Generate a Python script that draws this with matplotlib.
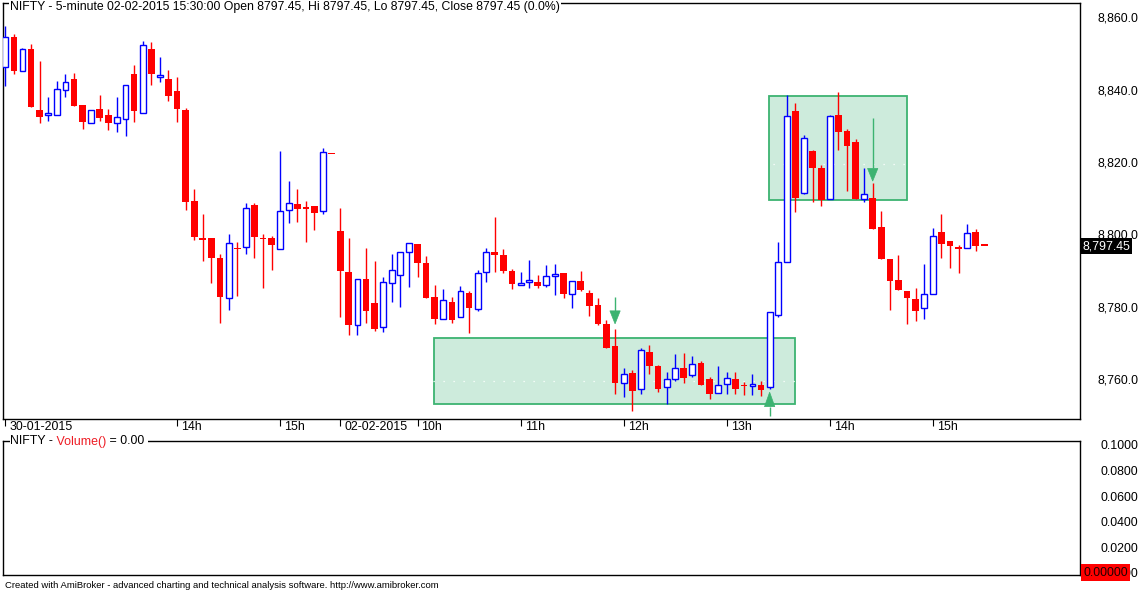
import matplotlib
matplotlib.use("Agg")
import matplotlib.pyplot as plt
from matplotlib import transforms
from matplotlib.patches import Rectangle, Polygon

plt.rcParams['font.family'] = ['Liberation Sans', 'DejaVu Sans']

# 5-minute bars, 30-01-2015 12:20 .. 02-02-2015 15:30
opens = [8846.9, 8855.1, 8845.8, 8851.8, 8835.0, 8833.5, 8833.5, 8840.4, 8843.5, 8836.3,
         8831.3, 8835.2, 8833.5, 8831.3, 8832.6, 8844.9, 8834.2, 8851.8, 8844.2, 8843.5,
         8840.2, 8834.9, 8809.8, 8799.6, 8799.6, 8794.0, 8782.9, 8796.8, 8797.0, 8808.7,
         8799.6, 8799.6, 8796.4, 8807.2, 8809.0, 8808.0, 8808.4, 8806.9, 8822.7, 8801.5,
         8790.2, 8775.4, 8788.1, 8781.5, 8774.9, 8787.0, 8789.2, 8795.6, 8797.9, 8792.6,
         8783.2, 8777.1, 8781.9, 8777.6, 8784.3, 8779.8, 8790.1, 8795.6, 8794.8, 8790.4,
         8786.5, 8787.5, 8787.3, 8786.5, 8789.0, 8789.9, 8784.0, 8787.7, 8784.3, 8780.9,
         8775.7, 8769.7, 8759.4, 8762.2, 8757.7, 8768.0, 8764.2, 8758.3, 8760.6, 8763.6,
         8761.7, 8765.0, 8760.6, 8756.6, 8759.1, 8760.6, 8758.8, 8758.5, 8758.9, 8758.3,
         8778.2, 8792.8, 8834.7, 8812.1, 8823.6, 8818.9, 8810.3, 8833.6, 8829.2, 8826.1,
         8810.3, 8810.6, 8802.6, 8793.7, 8787.9, 8784.9, 8782.7, 8780.1, 8784.0, 8801.1,
         8798.6, 8797.0, 8796.7, 8801.1, 8797.45]
highs = [8858.2, 8856.0, 8852.0, 8853.2, 8848.4, 8838.5, 8842.9, 8844.9, 8845.1, 8836.3,
         8834.9, 8839.0, 8835.2, 8838.5, 8841.8, 8847.3, 8854.1, 8853.8, 8849.7, 8846.0,
         8844.1, 8835.4, 8813.0, 8806.2, 8799.6, 8795.1, 8800.7, 8798.4, 8809.2, 8809.2,
         8800.7, 8800.1, 8823.6, 8815.3, 8813.1, 8809.8, 8808.4, 8824.5, 8822.7, 8807.9,
         8799.6, 8788.1, 8796.7, 8793.2, 8788.8, 8795.1, 8795.6, 8798.1, 8797.9, 8794.6,
         8786.5, 8785.4, 8783.2, 8786.3, 8784.8, 8790.7, 8796.8, 8805.4, 8796.5, 8790.9,
         8790.2, 8793.5, 8789.3, 8792.1, 8792.4, 8789.9, 8787.6, 8790.4, 8785.2, 8783.0,
         8776.9, 8774.4, 8763.6, 8763.0, 8769.0, 8770.0, 8764.4, 8762.6, 8767.5, 8767.8,
         8766.9, 8765.4, 8761.1, 8764.1, 8762.5, 8762.5, 8759.8, 8761.9, 8760.0, 8779.0,
         8798.4, 8839.1, 8836.9, 8828.0, 8824.0, 8819.8, 8833.6, 8840.0, 8829.7, 8826.9,
         8818.8, 8814.7, 8807.0, 8793.7, 8794.9, 8784.9, 8785.7, 8792.4, 8802.3, 8806.2,
         8798.6, 8797.5, 8803.4, 8802.0, 8797.45]
lows = [8841.7, 8844.9, 8845.8, 8835.9, 8831.5, 8832.0, 8833.5, 8838.6, 8836.2, 8829.6,
        8831.3, 8832.0, 8829.4, 8828.8, 8827.8, 8831.7, 8834.2, 8842.0, 8842.6, 8837.5,
        8831.7, 8807.3, 8799.0, 8793.3, 8787.2, 8776.1, 8779.6, 8783.6, 8795.1, 8794.1,
        8785.8, 8790.7, 8796.4, 8803.8, 8804.1, 8798.4, 8801.9, 8806.3, 8822.7, 8777.8,
        8772.8, 8772.8, 8776.1, 8773.9, 8773.5, 8781.9, 8780.6, 8786.1, 8788.9, 8783.0,
        8775.9, 8777.1, 8776.1, 8777.6, 8773.4, 8779.4, 8787.5, 8790.2, 8790.0, 8785.5,
        8786.5, 8785.8, 8785.6, 8785.9, 8783.9, 8783.0, 8780.3, 8785.0, 8778.1, 8775.6,
        8769.2, 8756.5, 8755.7, 8751.8, 8756.5, 8761.9, 8757.0, 8753.7, 8760.0, 8759.5,
        8761.2, 8759.0, 8754.9, 8756.6, 8756.3, 8756.5, 8756.2, 8756.1, 8755.9, 8757.8,
        8777.8, 8792.8, 8806.8, 8811.6, 8809.6, 8808.5, 8810.3, 8824.0, 8812.6, 8810.4,
        8809.6, 8802.1, 8793.8, 8779.7, 8785.3, 8775.9, 8776.7, 8777.1, 8784.0, 8794.1,
        8791.3, 8790.0, 8796.7, 8796.0, 8797.45]
closes = [8855.1, 8845.8, 8851.9, 8835.9, 8833.1, 8834.1, 8840.7, 8842.6, 8836.2, 8831.7,
          8834.9, 8832.8, 8831.3, 8832.9, 8841.8, 8834.8, 8852.9, 8844.9, 8844.6, 8838.9,
          8835.3, 8809.6, 8799.9, 8799.1, 8794.1, 8783.3, 8798.1, 8796.4, 8807.8, 8799.9,
          8799.3, 8797.7, 8806.9, 8809.2, 8807.7, 8807.7, 8806.6, 8823.3, 8822.7, 8790.5,
          8775.6, 8788.1, 8779.4, 8774.5, 8787.3, 8790.6, 8795.6, 8798.1, 8792.7, 8783.0,
          8777.2, 8782.3, 8777.0, 8784.8, 8780.3, 8789.8, 8795.6, 8794.9, 8790.5, 8786.9,
          8787.0, 8787.9, 8786.4, 8789.0, 8789.5, 8784.1, 8787.6, 8785.3, 8780.8, 8775.9,
          8769.2, 8759.5, 8761.9, 8757.3, 8768.5, 8764.2, 8757.9, 8760.6, 8763.5, 8760.9,
          8764.6, 8759.0, 8756.5, 8758.8, 8760.7, 8757.9, 8758.5, 8759.1, 8757.6, 8779.0,
          8792.8, 8833.2, 8810.7, 8827.1, 8819.0, 8810.2, 8833.2, 8829.0, 8825.1, 8810.4,
          8811.6, 8802.1, 8793.8, 8787.7, 8785.3, 8783.0, 8779.4, 8784.0, 8800.0, 8797.8,
          8797.4, 8796.6, 8800.9, 8797.4, 8797.45]

xtick_pos = [0, 20, 32, 39, 48, 60, 72, 84, 96, 108]
xtick_lab = ['30-01-2015', '14h', '15h', '02-02-2015', '10h', '11h',
             '12h', '13h', '14h', '15h']
price_ticks = [8760, 8780, 8800, 8820, 8840, 8860]
vol_ticks = [0.0, 0.02, 0.04, 0.06, 0.08, 0.10]
last_price = 8797.45

# highlighted zones: bar from, bar to, price low, price high
zones = [(49.95, 91.9, 8753.6, 8771.8), (88.95, 104.95, 8810.0, 8838.8)]
# signal arrows: bar, shaft end, head base, head tip
arrows = [(71, 8783.3, 8779.4, 8775.8),
          (89, 8750.4, 8752.9, 8756.9),
          (101, 8832.8, 8818.8, 8815.3)]

W, H = 1140, 593
fig = plt.figure(figsize=(W / 100, H / 100), dpi=100)
ax = fig.add_axes([3 / W, 1 - 419.3 / H, 1076.5 / W, 416 / H])
axv = fig.add_axes([3 / W, 1 - 575.3 / H, 1076.5 / W, 134.3 / H])

green = '#3cb371'
for x0, x1, lo, hi in zones:
    ax.add_patch(Rectangle((x0, lo), x1 - x0, hi - lo, facecolor='#cdebdc',
                           edgecolor=green, lw=1.3, zorder=1))
for p in price_ticks:
    ax.axhline(p, color='white', lw=0.9, ls=(0, (1, 7)), zorder=2)

n = len(opens)
xs = list(range(n))
up = [c > o for o, c in zip(opens, closes)]
bottoms = [min(o, c) for o, c in zip(opens, closes)]
heights = [max(abs(c - o), 0.35) for o, c in zip(opens, closes)]
wick_col = ['#0000ff' if u else '#ff0000' for u in up]

ax.vlines(xs, lows, highs, colors=wick_col, lw=1.0, zorder=3)
ux = [x for x in xs if up[x]]
dx = [x for x in xs if not up[x]]
ax.bar(dx, [heights[i] for i in dx], bottom=[bottoms[i] for i in dx], width=0.78,
       color='#ff0000', lw=0, zorder=4)
ax.bar(ux, [heights[i] for i in ux], bottom=[bottoms[i] for i in ux], width=0.68,
       facecolor='white', edgecolor='#0000ff', lw=1.0, zorder=4)

for bx, tail, base, tip in arrows:
    ax.vlines(bx, tail, base, colors=green, lw=1.0, zorder=5)
    ax.add_patch(Polygon([(bx - 0.6, base), (bx + 0.6, base), (bx, tip)],
                         closed=True, facecolor=green, edgecolor=green, lw=0.5, zorder=5))

ax.set_xlim(-0.27, 125.08)
ax.set_ylim(8749.4, 8864.48)
axv.set_xlim(-0.27, 125.08)
axv.set_ylim(-0.00204, 0.10313)

for a in (ax, axv):
    for s in a.spines.values():
        s.set_linewidth(1.0)
    a.yaxis.set_ticks_position('right')

fs = 8.9
ax.set_xticks(xtick_pos)
ax.set_xticklabels([])
ax.tick_params(axis='x', direction='out', length=4.8, width=0.8)
ax.set_yticks(price_ticks, labels=[f'{v:,.1f}' for v in price_ticks])
ax.tick_params(axis='y', length=0, pad=13.3, labelsize=fs)
nudge = transforms.ScaledTranslation(0, 2 / 100, fig.dpi_scale_trans)
for lab in ax.get_yticklabels():
    lab.set_transform(lab.get_transform() + nudge)

blend = transforms.blended_transform_factory(ax.transData, ax.transAxes)
lab_tr = transforms.offset_copy(blend, fig=fig, x=4, y=-10.9, units='dots')
for p, lab in zip(xtick_pos, xtick_lab):
    ax.text(p, 0, lab, transform=lab_tr, ha='left', va='baseline', fontsize=fs)

axv.set_xticks([])
axv.set_yticks(vol_ticks, labels=[f'{v:.4f}' for v in vol_ticks])
axv.tick_params(axis='y', length=0, pad=14.8, labelsize=fs)

# headers on the top frame lines
t_tr = transforms.offset_copy(ax.transAxes, fig=fig, x=7, y=-4, units='dots')
ax.text(0, 1, 'NIFTY - 5-minute 02-02-2015 15:30:00 Open 8797.45, Hi 8797.45, '
        'Lo 8797.45, Close 8797.45 (0.0%)', transform=t_tr, ha='left', va='center',
        fontsize=8.8, bbox=dict(facecolor='white', edgecolor='none', pad=1), zorder=6)

v_tr = transforms.offset_copy(axv.transAxes, fig=fig, x=7, y=-0.5, units='dots')
wb = dict(facecolor='white', edgecolor='none', pad=0)
t1 = axv.text(0, 1, 'NIFTY -', transform=v_tr, ha='left', va='center', fontsize=fs,
              bbox=wb, zorder=7)
t2 = axv.annotate(' Volume()', xy=(1, 0), xycoords=t1, ha='left', va='bottom',
                  fontsize=fs, color='#ee1c24', bbox=wb, zorder=7)
t3 = axv.annotate(' = 0.00 ', xy=(1, 0), xycoords=t2, ha='left', va='bottom',
                  fontsize=fs, bbox=wb, zorder=7)

# last value markers
pb = transforms.blended_transform_factory(ax.transAxes, ax.transData)
pb = transforms.offset_copy(pb, fig=fig, x=3, y=-0.5, units='dots')
ax.text(1, last_price, f'{last_price:,.2f}', transform=pb, ha='left', va='center',
        fontsize=fs, color='white', clip_on=False,
        bbox=dict(boxstyle='square,pad=0.16', facecolor='black', edgecolor='none'))
vb = transforms.blended_transform_factory(axv.transAxes, axv.transData)
vb = transforms.offset_copy(vb, fig=fig, x=4, y=0, units='dots')
axv.text(1, 0.0, '0.00000', transform=vb, ha='left', va='center', fontsize=fs,
         color='#200000', clip_on=False,
         bbox=dict(boxstyle='square,pad=0.18', facecolor='#ff0000', edgecolor='none'))

fig.text(5 / W, 1 - 586 / H, 'Created with AmiBroker - advanced charting and technical '
         'analysis software. http://www.amibroker.com', ha='left', va='center', fontsize=6.8)

fig.savefig('out.png', dpi=100)
